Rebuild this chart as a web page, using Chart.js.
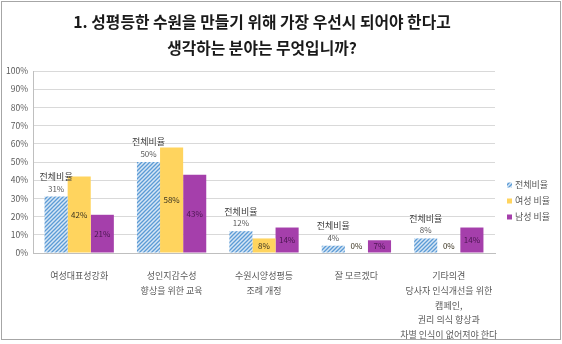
<!DOCTYPE html>
<html lang="ko">
<head>
<meta charset="utf-8">
<script src="https://cdn.jsdelivr.net/npm/chart.js@4.4.1/dist/chart.umd.min.js"></script>
<style>
  html, body { margin: 0; padding: 0; background: #fff; }
  #wrap { width: 562px; height: 344px; position: relative; }
</style>
</head>
<body>
<div id="wrap"><canvas id="chart" width="562" height="344"></canvas></div>
<script>
const titleLines = ['1. 성평등한 수원을 만들기 위해 가장 우선시 되어야 한다고', '생각하는 분야는 무엇입니까?'];
const categories = [
  ['여성대표성강화'],
  ['성인지감수성', '향상을 위한 교육'],
  ['수원시양성평등', '조례 개정'],
  ['잘 모르겠다'],
  ['기타의견', '당사자 인식개선을 위한', '캠페인,', '권리 의식 향상과', '차별 인식이 없어져야 한다']
];
const seriesNames = ['전체비율', '여성 비율', '남성 비율'];
const totalValues = [31, 50, 12, 4, 8];
const femaleValues = [42, 58, 8, 0, 0];
const maleValues = [21, 43, 14, 7, 14];
const yTicks = [0, 10, 20, 30, 40, 50, 60, 70, 80, 90, 100];

const FONT = '"Noto Sans CJK KR", "Noto Sans", sans-serif';

function makeHatch() {
  const c = document.createElement('canvas');
  c.width = 4; c.height = 4;
  const g = c.getContext('2d');
  g.fillStyle = '#d6e6f5';
  g.fillRect(0, 0, 4, 4);
  g.strokeStyle = '#5b9bd5';
  g.lineWidth = 1.3;
  g.beginPath();
  g.moveTo(0, 4); g.lineTo(4, 0);
  g.moveTo(-1, 1); g.lineTo(1, -1);
  g.moveTo(3, 5); g.lineTo(5, 3);
  g.stroke();
  return g.createPattern(c, 'repeat');
}
const hatch = makeHatch();
const colors = [hatch, '#ffd45e', '#a53fab'];
const valueColors = ['#595959', '#3a3320', '#4a1650'];

const labelPlugin = {
  id: 'labels',
  afterDatasetsDraw(chart) {
    const ctx = chart.ctx;
    ctx.save();
    ctx.textAlign = 'center';
    ctx.textBaseline = 'middle';
    chart.data.datasets.forEach((ds, di) => {
      const meta = chart.getDatasetMeta(di);
      meta.data.forEach((bar, i) => {
        const v = ds.data[i];
        ctx.fillStyle = valueColors[di];
        ctx.font = '8px ' + FONT;
        if (di === 0) {
          ctx.fillText(v + '%', bar.x, bar.y - 8);
          ctx.fillStyle = '#404040';
          ctx.font = '9px ' + FONT;
          ctx.fillText(seriesNames[0], bar.x, bar.y - 20);
        } else {
          const mid = Math.min((bar.y + bar.base) / 2, bar.base - 7);
          ctx.fillText(v + '%', bar.x, mid);
        }
      });
    });
    ctx.restore();
  },
  afterDraw(chart) {
    const ctx = chart.ctx;
    const area = chart.chartArea;
    ctx.save();
    // title
    ctx.fillStyle = '#1a1a1a';
    ctx.font = 'bold 15.8px ' + FONT;
    ctx.textAlign = 'center';
    ctx.textBaseline = 'middle';
    ctx.fillText(titleLines[0], 262, 22);
    ctx.fillText(titleLines[1], 262, 48);
    // legend
    ctx.font = '9px ' + FONT;
    ctx.textAlign = 'left';
    seriesNames.forEach((name, i) => {
      const y = 185 + i * 16;
      ctx.fillStyle = colors[i];
      ctx.fillRect(area.right + 12, y - 2.5, 5, 5);
      ctx.fillStyle = '#595959';
      ctx.fillText(name, area.right + 20, y);
    });
    // frame
    ctx.strokeStyle = '#a6a6a6';
    ctx.lineWidth = 1;
    ctx.strokeRect(1.5, 1.5, 559, 338);
    ctx.restore();
  }
};

new Chart(document.getElementById('chart'), {
  type: 'bar',
  data: {
    labels: categories,
    datasets: [
      { label: seriesNames[0], data: totalValues, backgroundColor: colors[0] },
      { label: seriesNames[1], data: femaleValues, backgroundColor: colors[1] },
      { label: seriesNames[2], data: maleValues, backgroundColor: colors[2] }
    ]
  },
  options: {
    responsive: false,
    animation: false,
    layout: { padding: { top: 71, right: 67, left: 0, bottom: 0 } },
    datasets: { bar: { categoryPercentage: 0.75, barPercentage: 1, borderWidth: 0 } },
    plugins: { legend: { display: false }, title: { display: false }, tooltip: { enabled: false } },
    scales: {
      x: {
        grid: { display: false },
        border: { display: true, color: '#bfbfbf' },
        ticks: { color: '#595959', font: { family: FONT, size: 9, lineHeight: 1.65 }, padding: 7, maxRotation: 0, autoSkip: false },
        afterFit(axis) { axis.height = 91; }
      },
      y: {
        min: 0, max: 100,
        afterBuildTicks(axis) { axis.ticks = yTicks.map((v) => ({ value: v })); },
        grid: { color: '#d9d9d9', drawTicks: false },
        border: { display: true, color: '#bfbfbf' },
        ticks: { color: '#595959', font: { family: FONT, size: 8.5 }, padding: 5, callback: (v) => v + '%' },
        afterFit(axis) { axis.width = 33; }
      }
    }
  },
  plugins: [labelPlugin]
});
</script>
</body>
</html>
